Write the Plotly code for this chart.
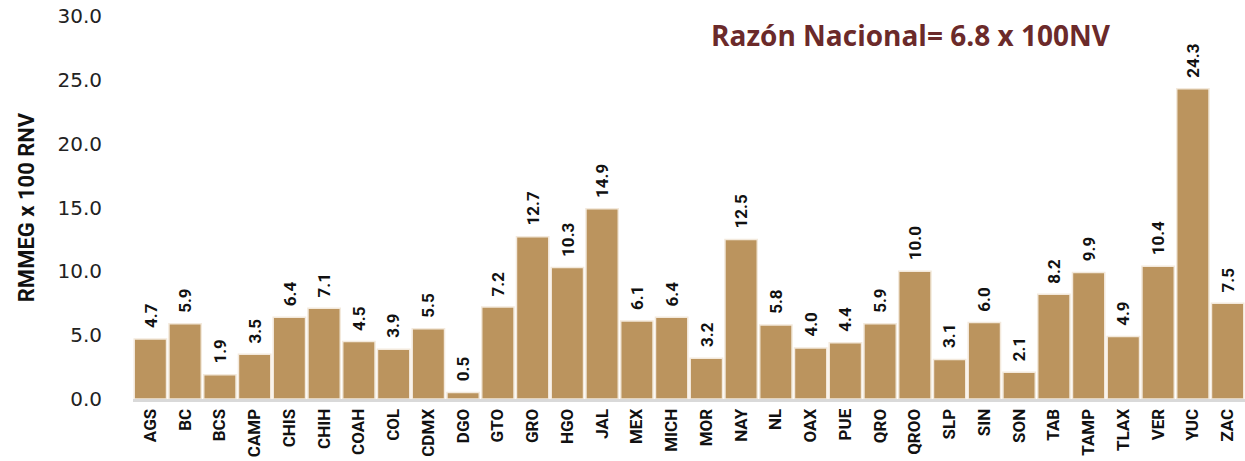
import plotly.graph_objects as go

states = ["AGS","BC","BCS","CAMP","CHIS","CHIH","COAH","COL","CDMX","DGO","GTO","GRO","HGO","JAL",
          "MEX","MICH","MOR","NAY","NL","OAX","PUE","QRO","QROO","SLP","SIN","SON","TAB","TAMP",
          "TLAX","VER","YUC","ZAC"]
values = [4.7,5.9,1.9,3.5,6.4,7.1,4.5,3.9,5.5,0.5,7.2,12.7,10.3,14.9,
          6.1,6.4,3.2,12.5,5.8,4.0,4.4,5.9,10.0,3.1,6.0,2.1,8.2,9.9,
          4.9,10.4,24.3,7.5]
y_ticks = [0,5,10,15,20,25,30]
national_text = "Razón Nacional= 6.8 x 100NV"
y_title = "RMMEG x 100 RNV"

cond = "Roboto, Liberation Sans, sans-serif"

fig = go.Figure(go.Bar(
    x=states, y=values,
    marker=dict(color="#BB945E", line=dict(color="#F3E9DC", width=1.5)),
    cliponaxis=False,
))

annotations = [dict(
    x=s, y=v, xref="x", yref="y", text=f"{v:.1f}", textangle=-90,
    showarrow=False, xanchor="center", yanchor="bottom", yshift=9,
    font=dict(family=cond, size=17, color="#111111", weight="bold"),
) for s, v in zip(states, values)]

annotations.append(dict(
    text=national_text, xref="paper", yref="paper", x=0.70, y=0.95,
    xanchor="center", yanchor="middle", showarrow=False,
    font=dict(family="Open Sans, DejaVu Sans, sans-serif", size=28, color="#6B2A2A", weight="bold"),
))

fig.update_layout(
    width=1245, height=461,
    margin=dict(l=133, r=0, t=16, b=62),
    plot_bgcolor="white", paper_bgcolor="white",
    bargap=0.07,
    showlegend=False,
    xaxis=dict(
        tickangle=-90, showline=True, linecolor="#D9D9D9", linewidth=3,
        tickfont=dict(family=cond, size=17, color="#111111", weight="bold"),
        ticks="", range=[-0.5, len(states)-0.5],
    ),
    yaxis=dict(
        range=[0, 30], tickvals=y_ticks, tickformat=".1f", showgrid=False, zeroline=False,
        tickfont=dict(family="DejaVu Sans, sans-serif", size=20, color="#222222"),
        ticklabelstandoff=30,
        title=dict(text=y_title, font=dict(family=cond, size=22, color="#111111", weight="bold"), standoff=16),
    ),
    annotations=annotations,
)

fig.write_html("out.html", config={"displayModeBar": False},
               post_script="document.body.style.margin='0';document.body.style.overflow='hidden';")
